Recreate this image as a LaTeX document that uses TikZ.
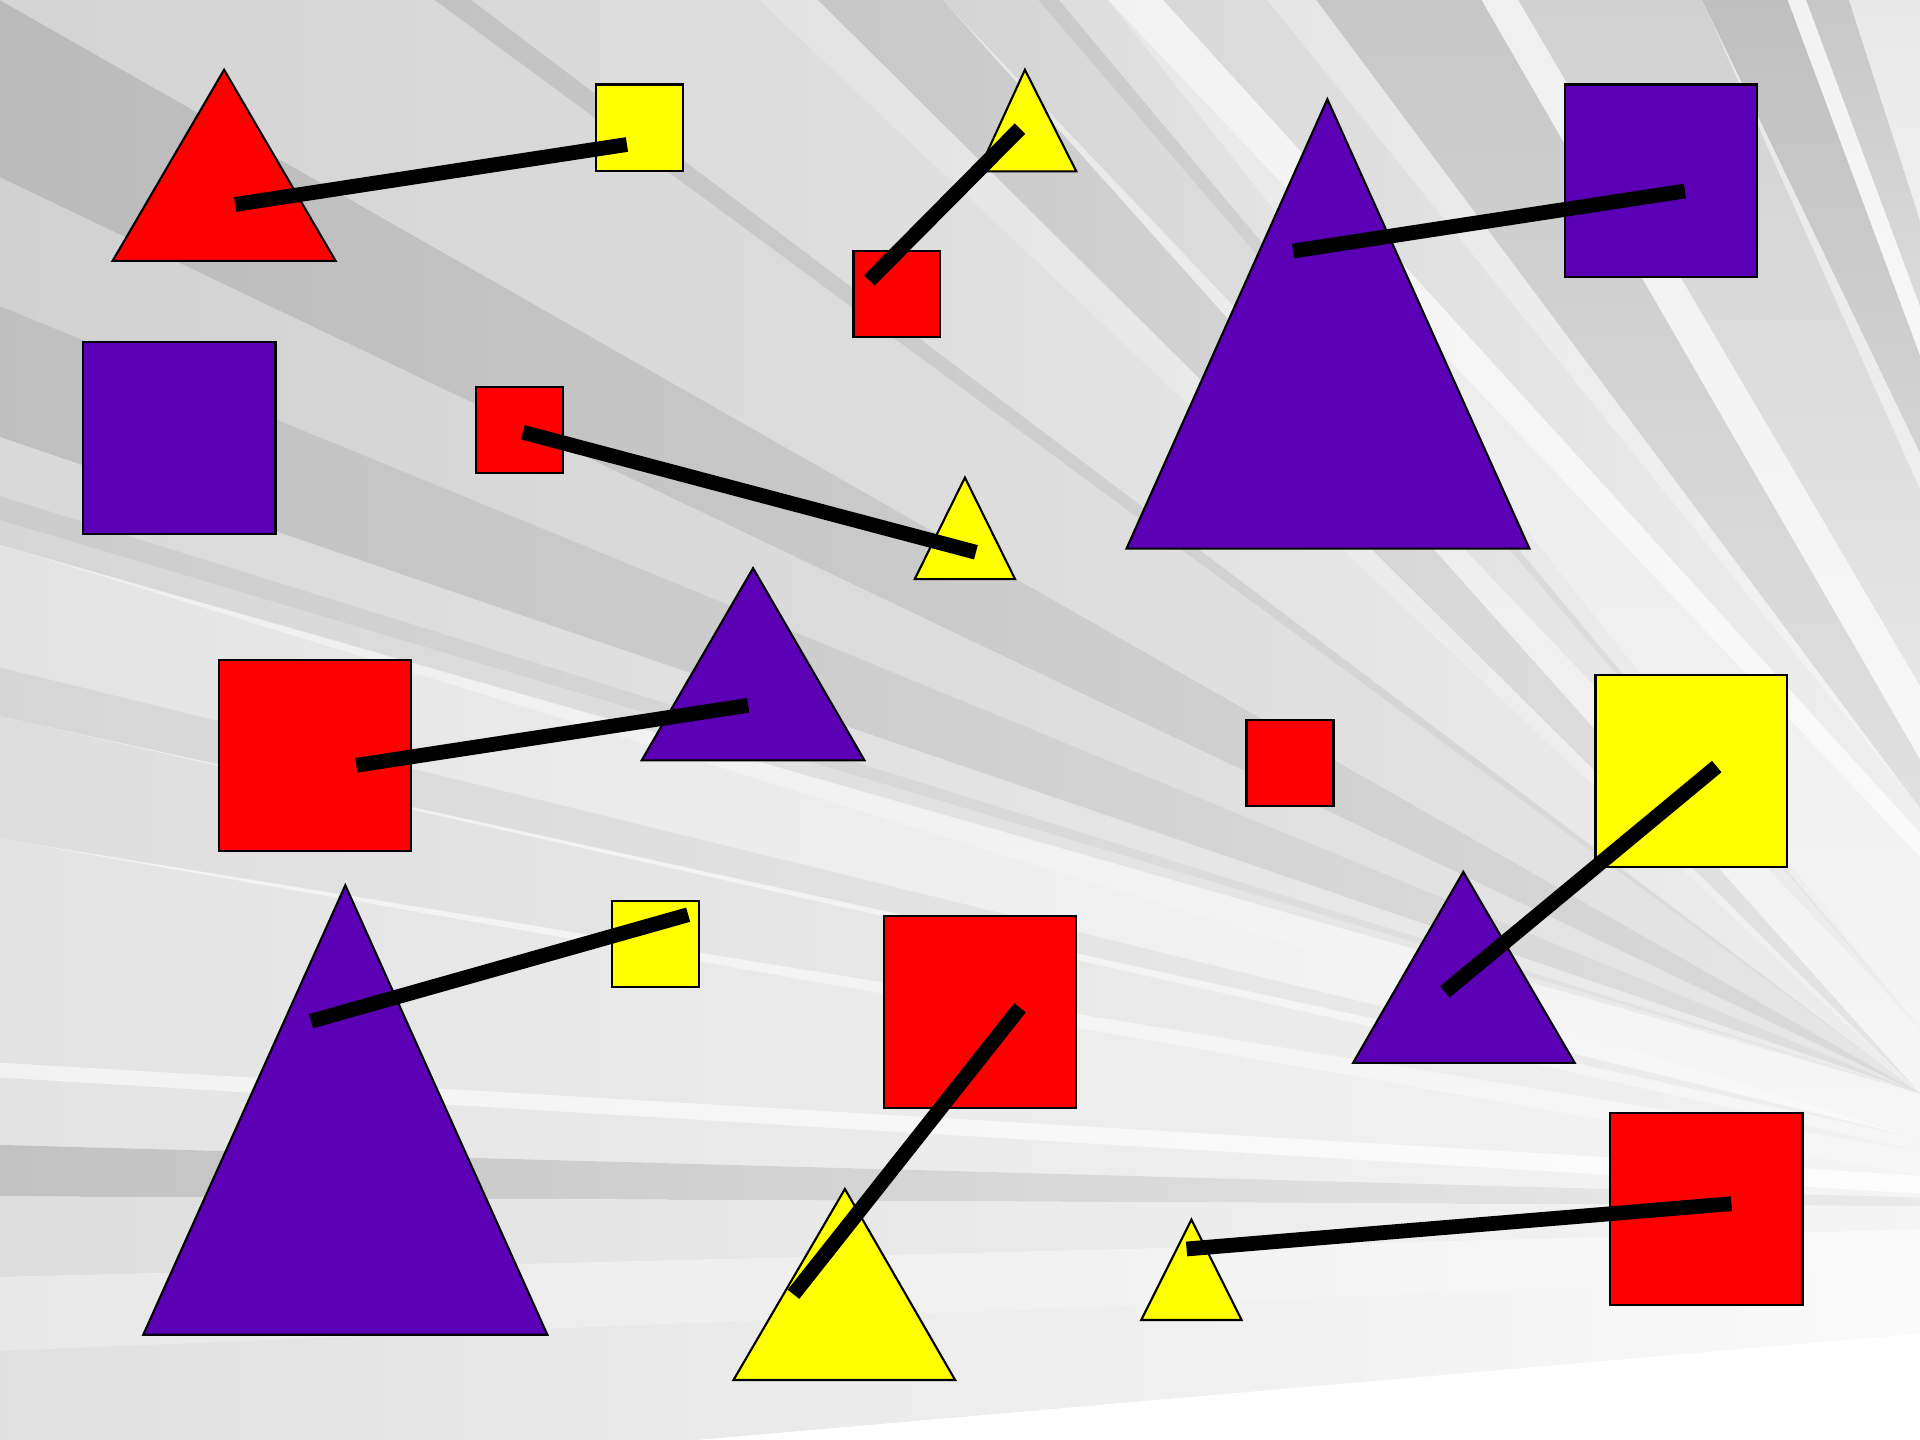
\documentclass[tikz,border=0pt]{standalone}
\usetikzlibrary{calc}
\definecolor{merah}{RGB}{255,0,0}
\definecolor{kuning}{RGB}{255,255,0}
\definecolor{ungu}{RGB}{91,0,181}

\begin{document}
\begin{tikzpicture}[x=0.012245cm, y=-0.012245cm,
    bentuk/.style={draw=black, line width=0.6pt, line join=miter},
    sinar/.style 2 args={left color=black!#1, right color=black!#2},
    sinartegak/.style 2 args={top color=black!#1, bottom color=black!#2},
    penghubung/.style={line width=4.2pt}]
    \useasboundingbox (0,0) rectangle (1568,1176);
    % latar belakang
    \shade[top color=black!9, bottom color=black!2] (0,0) rectangle (1568,1176);
    \coordinate (C1) at (1568,893);
    \coordinate (C2) at (1568,840);
    % sinar kiri
    \shade[sinar={27}{14}] (0,0) -- (0,145) -- (C1) -- cycle;
    \shade[sinar={18}{9}] (0,145) -- (0,250) -- (C1) -- cycle;
    \shade[sinar={25}{12}] (0,250) -- (0,357) -- (C1) -- cycle;
    \shade[sinar={15}{7}] (0,357) -- (0,405) -- (C1) -- cycle;
    \shade[sinar={20}{10}] (0,405) -- (0,425) -- (C1) -- cycle;
    \shade[sinar={16}{7}] (0,425) -- (0,445) -- (C1) -- cycle;
    % sinar atas
    \shade[sinar={17}{10}] (0,0) -- (355,0) -- (C1) -- cycle;
    \shade[sinar={24}{12}] (355,0) -- (385,0) -- (C1) -- cycle;
    \shade[sinar={15}{7}] (385,0) -- (620,0) -- (C1) -- cycle;
    \shade[sinar={11}{5}] (620,0) -- (668,0) -- (C1) -- cycle;
    \shade[sinar={22}{10}] (668,0) -- (770,0) -- (C1) -- cycle;
    \shade[sinar={17}{6}] (770,0) -- (848,0) -- (C2) -- cycle;
    \shade[sinar={21}{9}] (848,0) -- (865,0) -- (C2) -- cycle;
    \shade[sinar={13}{5}] (865,0) -- (905,0) -- (C2) -- cycle;
    \shade[sinar={5}{2}] (905,0) -- (950,0) -- (1568,680) -- (1568,700) -- cycle;
    \shade[sinar={15}{6}] (950,0) -- (1035,0) -- (1568,660) -- (1568,680) -- cycle;
    \shade[sinar={10}{4}] (1035,0) -- (1075,0) -- (1568,660) -- cycle;
    \shade[sinartegak={22}{12}] (1075,0) -- (1210,0) -- (1568,620) -- (1568,660) -- cycle;
    \shade[sinartegak={6}{3}] (1210,0) -- (1240,0) -- (1568,560) -- (1568,620) -- cycle;
    \shade[sinartegak={18}{10}] (1240,0) -- (1390,0) -- (1568,400) -- (1568,560) -- cycle;
    \shade[sinartegak={25}{17}] (1390,0) -- (1460,0) -- (1568,290) -- (1568,370) -- cycle;
    \shade[sinartegak={5}{3}] (1460,0) -- (1475,0) -- (1568,250) -- (1568,290) -- cycle;
    \shade[sinartegak={22}{14}] (1475,0) -- (1510,0) -- (1568,180) -- (1568,250) -- cycle;
    \shade[sinartegak={9}{6}] (1510,0) -- (1568,0) -- (1568,180) -- cycle;
    % sinar bawah
    \shade[sinar={11}{2}] (0,445) -- (0,545) -- (1568,930) -- cycle;
    \shade[sinar={16}{6}] (0,545) -- (0,585) -- (1568,930) -- cycle;
    \shade[sinar={13}{5}] (0,585) -- (0,685) -- (1568,940) -- cycle;
    \shade[sinar={11}{4}] (0,685) -- (0,868) -- (1568,960) -- cycle;
    \shade[sinar={5}{1}] (0,868) -- (0,880) -- (1568,975) -- (1568,960) -- cycle;
    \shade[sinar={11}{4}] (0,880) -- (0,935) -- (1568,978) -- (1568,975) -- cycle;
    \shade[sinar={24}{8}] (0,935) -- (0,977) -- (1568,985) -- (1568,978) -- cycle;
    \shade[sinar={13}{4}] (0,977) -- (0,1043) -- (1568,1004) -- (1568,985) -- cycle;
    \shade[sinar={9}{2}] (0,1043) -- (0,1103) -- (1568,1040) -- (1568,1004) -- cycle;
    \shade[sinar={12}{2}] (0,1103) -- (0,1176) -- (570,1176) -- (1568,1089) -- (1568,1040) -- cycle;
    \fill[white] (570,1176) -- (1568,1176) -- (1568,1089) -- cycle;

    % segitiga
    \draw[bentuk, fill=merah] (92,213) -- (183,57) -- (274,213) -- cycle;
    \draw[bentuk, fill=kuning] (799,140) -- (837,57) -- (879,140) -- cycle;
    \draw[bentuk, fill=ungu] (920,448) -- (1084,81) -- (1249,448) -- cycle;
    \draw[bentuk, fill=kuning] (747,473) -- (788,390) -- (829,473) -- cycle;
    \draw[bentuk, fill=ungu] (524,621) -- (615,464) -- (706,621) -- cycle;
    \draw[bentuk, fill=ungu] (1105,868) -- (1195,712) -- (1286,868) -- cycle;
    \draw[bentuk, fill=ungu] (117,1090) -- (282,723) -- (447,1090) -- cycle;
    \draw[bentuk, fill=kuning] (599,1127) -- (690,971) -- (780,1127) -- cycle;
    \draw[bentuk, fill=kuning] (932,1078) -- (973,996) -- (1014,1078) -- cycle;

    % persegi
    \draw[bentuk, fill=kuning] (487,69) rectangle (558,140);
    \draw[bentuk, fill=merah] (697,205) rectangle (768,275);
    \draw[bentuk, fill=ungu] (1278,69) rectangle (1435,226);
    \draw[bentuk, fill=ungu] (68,279) rectangle (225,436);
    \draw[bentuk, fill=merah] (389,316) rectangle (460,386);
    \draw[bentuk, fill=merah] (179,539) rectangle (336,695);
    \draw[bentuk, fill=merah] (1018,588) rectangle (1089,658);
    \draw[bentuk, fill=kuning] (1303,551) rectangle (1459,708);
    \draw[bentuk, fill=kuning] (500,736) rectangle (571,806);
    \draw[bentuk, fill=merah] (722,748) rectangle (879,905);
    \draw[bentuk, fill=merah] (1315,909) rectangle (1472,1066);

    % titik-titik ujung garis
    \coordinate (P1) at (192,167);  \coordinate (Q1) at (512,118);
    \coordinate (P2) at (710,229);  \coordinate (Q2) at (833,105);
    \coordinate (P3) at (1056,205); \coordinate (Q3) at (1376,156);
    \coordinate (P4) at (427,353);  \coordinate (Q4) at (797,451);
    \coordinate (P5) at (291,625);  \coordinate (Q5) at (611,576);
    \coordinate (P6) at (1180,810); \coordinate (Q6) at (1402,626);
    \coordinate (P7) at (254,834);  \coordinate (Q7) at (562,747);
    \coordinate (P8) at (648,1057); \coordinate (Q8) at (833,823);
    \coordinate (P9) at (969,1020); \coordinate (Q9) at (1414,983);

    % garis penghubung
    \draw[penghubung] (P1) -- (Q1);
    \draw[penghubung] (P2) -- (Q2);
    \draw[penghubung] (P3) -- (Q3);
    \draw[penghubung] (P4) -- (Q4);
    \draw[penghubung] (P5) -- (Q5);
    \draw[penghubung] (P6) -- (Q6);
    \draw[penghubung] (P7) -- (Q7);
    \draw[penghubung] (P8) -- (Q8);
    \draw[penghubung] (P9) -- (Q9);
\end{tikzpicture}
\end{document}
